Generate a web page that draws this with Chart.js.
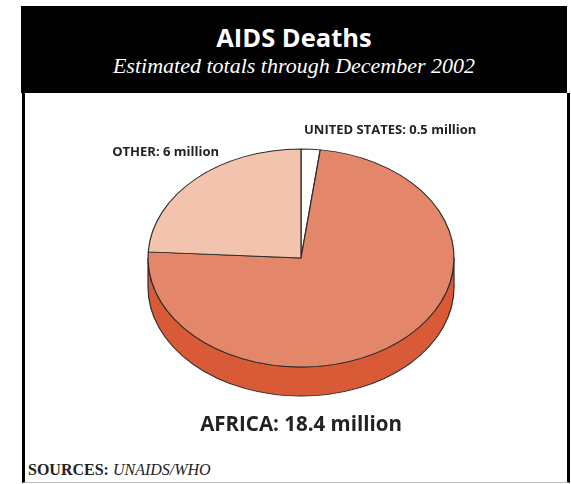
<!DOCTYPE html>
<html>
<head>
<meta charset="utf-8">
<script src="https://cdn.jsdelivr.net/npm/chart.js@4.4.1/dist/chart.umd.min.js"></script>
<style>
  html, body { margin: 0; padding: 0; background: #fff; }
  #page { position: relative; width: 571px; height: 484px; overflow: hidden; }
  #head { position: absolute; left: 21px; top: 6px; width: 546px; height: 87px; background: #000; color: #fff; text-align: center; }
  #head h1 { margin: 0; padding-top: 16px; font: bold 25.5px "Open Sans", sans-serif; line-height: 31px; }
  #head h2 { margin: 0; font: italic 22px "Liberation Serif", serif; line-height: 26px; }
  #box { position: absolute; left: 22px; top: 93px; width: 542px; height: 389px; border-left: 3px solid #000; border-right: 3px solid #000; border-bottom: 1px solid #bbb; }
  #src { position: absolute; left: 28px; top: 461px; font: 16px "Liberation Serif", serif; color: #222; }
  #src b { font-weight: bold; }
  #src i { font-style: italic; }
  canvas { position: absolute; left: 0; top: 0; }
</style>
</head>
<body>
<div id="page">
  <div id="head">
    <h1>AIDS Deaths</h1>
    <h2>Estimated totals through December 2002</h2>
  </div>
  <div id="box"></div>
  <div id="src"><b>SOURCES:</b> <i>UNAIDS/WHO</i></div>
  <canvas id="pieChart" width="571" height="484"></canvas>
</div>
<script>
// data (millions of deaths)
const regions = ['UNITED STATES', 'AFRICA', 'OTHER'];
const deaths = [0.5, 18.4, 6];
const topColors = ['#ffffff', '#e38669', '#f2c4ae'];
const sideColors = ['#dddddd', '#d85a37', '#dba48c'];

const squash = 109 / 153;   // vertical flattening of the pie
const depth = 29;           // thickness of the disc in px

// flattens the pie and draws the disc edge under the front half
const tilt = {
  id: 'tilt',
  beforeDatasetsDraw(chart) {
    const ctx = chart.ctx;
    const arcs = chart.getDatasetMeta(0).data;
    const cx = arcs[0].x, cy = arcs[0].y;
    ctx.save();
    ctx.translate(0, cy);
    ctx.scale(1, squash);
    ctx.translate(0, -cy);
    const d = depth / squash;
    arcs.forEach((a, i) => {
      let s = a.startAngle, e = a.endAngle;
      // only the part facing the viewer, angles [0, PI]
      const two = Math.PI * 2;
      [[s, e], [s - two, e - two], [s + two, e + two]].forEach(([s1, e1]) => {
        const from = Math.max(s1, 0), to = Math.min(e1, Math.PI);
        if (to <= from) return;
        const r = a.outerRadius;
        ctx.beginPath();
        ctx.arc(cx, cy, r, from, to);
        ctx.lineTo(cx + r * Math.cos(to), cy + d + r * Math.sin(to));
        ctx.arc(cx, cy + d, r, to, from, true);
        ctx.closePath();
        ctx.fillStyle = sideColors[i];
        ctx.fill();
        ctx.lineWidth = 1.2;
        ctx.strokeStyle = '#2b2b2b';
        ctx.stroke();
      });
    });
  },
  afterDatasetsDraw(chart) {
    chart.ctx.restore();
  },
  afterDraw(chart) {
    const ctx = chart.ctx;
    ctx.save();
    ctx.fillStyle = '#222';
    ctx.textBaseline = 'middle';
    const lbl = i => regions[i] + ': ' + deaths[i] + ' million';
    ctx.font = 'bold 13px "Open Sans", sans-serif';
    ctx.textAlign = 'left';
    ctx.fillText(lbl(0), 304, 130);
    ctx.textAlign = 'right';
    ctx.fillText(lbl(2), 219, 152);
    ctx.font = 'bold 20.5px "Open Sans", sans-serif';
    ctx.textAlign = 'center';
    ctx.fillText(lbl(1), 301, 425);
    ctx.restore();
  }
};

new Chart(document.getElementById('pieChart'), {
  type: 'pie',
  data: {
    labels: regions,
    datasets: [{
      data: deaths,
      backgroundColor: topColors,
      borderColor: '#2b2b2b',
      borderWidth: 1.2
    }]
  },
  options: {
    responsive: false,
    animation: false,
    radius: 153,
    layout: { padding: { left: 40, right: 9, top: 40, bottom: 8 } },
    plugins: { legend: { display: false }, tooltip: { enabled: false } }
  },
  plugins: [tilt]
});
</script>
</body>
</html>
